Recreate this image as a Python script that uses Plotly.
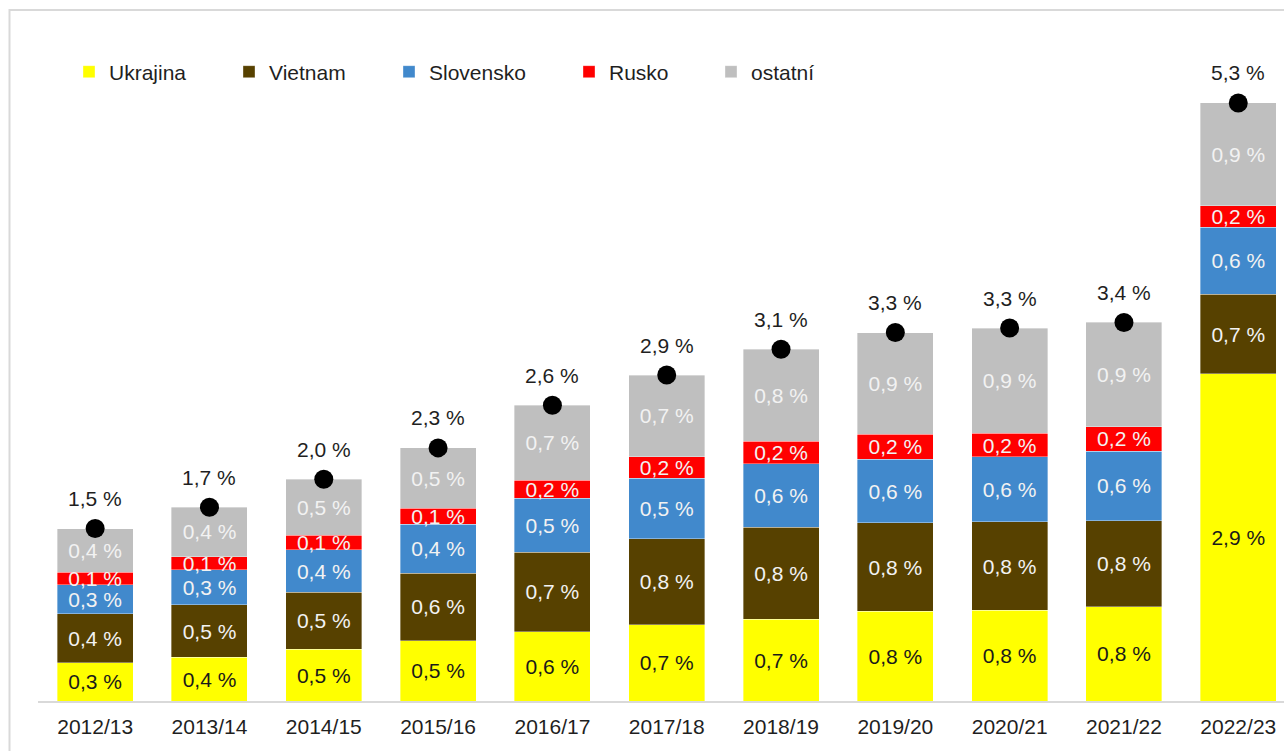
import plotly.graph_objects as go

categories = ["2012/13", "2013/14", "2014/15", "2015/16", "2016/17", "2017/18",
              "2018/19", "2019/20", "2020/21", "2021/22", "2022/23"]
ukrajina = [0.34, 0.39, 0.46, 0.54, 0.62, 0.68, 0.73, 0.80, 0.81, 0.84, 2.92]
vietnam = [0.44, 0.47, 0.51, 0.60, 0.71, 0.77, 0.82, 0.79, 0.79, 0.77, 0.71]
slovensko = [0.26, 0.31, 0.38, 0.44, 0.48, 0.54, 0.57, 0.57, 0.58, 0.62, 0.60]
rusko = [0.11, 0.12, 0.13, 0.14, 0.16, 0.19, 0.20, 0.22, 0.21, 0.22, 0.19]
ostatni = [0.39, 0.44, 0.50, 0.54, 0.67, 0.73, 0.82, 0.91, 0.94, 0.93, 0.92]

series = [
    ("Ukrajina", ukrajina, "#FFFF00", "#1a1a1a"),
    ("Vietnam", vietnam, "#574100", "#f2f2f2"),
    ("Slovensko", slovensko, "#4189CC", "#f2f2f2"),
    ("Rusko", rusko, "#FF0000", "#f2f2f2"),
    ("ostatní", ostatni, "#BFBFBF", "#f2f2f2"),
]
legend_x = [69, 229, 389, 569, 711]

FONT = "Liberation Sans, Arial, sans-serif"
FS = 21


def fmt(v):
    return f"{v:.1f}".replace(".", ",") + " %"


fig = go.Figure()
legend_layouts = {}
for i, (name, vals, color, tcolor) in enumerate(series):
    lg = "legend" if i == 0 else f"legend{i + 1}"
    fig.add_trace(go.Bar(
        x=categories, y=vals, name=name,
        marker=dict(color=color, line=dict(width=0.6, color="rgba(255,255,255,0.6)")),
        text=[fmt(v) for v in vals], texttemplate="%{text}",
        textposition="inside", insidetextanchor="middle", textangle=0,
        textfont=dict(family=FONT, size=FS, color=tcolor),
        legend=lg, hoverinfo="skip",
    ))
    legend_layouts[lg] = dict(
        x=legend_x[i] / 1284, xref="container", xanchor="left",
        y=1 - 72 / 751, yref="container", yanchor="middle",
        orientation="h", bgcolor="rgba(0,0,0,0)",
        font=dict(family=FONT, size=FS, color="#1f1f1f"),
    )

totals = [round(sum(v), 2) for v in zip(ukrajina, vietnam, slovensko, rusko, ostatni)]

fig.add_trace(go.Scatter(
    x=categories, y=totals, mode="markers",
    marker=dict(color="black", size=19),
    showlegend=False, cliponaxis=False, hoverinfo="skip",
))

for c, t in zip(categories, totals):
    fig.add_annotation(x=c, y=t, text=fmt(t), showarrow=False, yshift=30,
                       font=dict(family=FONT, size=FS, color="#1f1f1f"))

plot_top, plot_bottom = 20, 701
plot_h = plot_bottom - plot_top
px_per_unit = 112

fig.add_shape(type="rect", xref="paper", yref="paper",
              x0=(9.5 - 38) / 1246, x1=1.2,
              y0=-0.3, y1=(plot_bottom - 10) / plot_h,
              line=dict(color="#d9d9d9", width=2), layer="below")

fig.update_layout(
    width=1284, height=751,
    barmode="stack", bargap=0.335,
    separators=", ",
    plot_bgcolor="white", paper_bgcolor="white",
    margin=dict(l=38, r=0, t=plot_top, b=751 - plot_bottom, autoexpand=False),
    uniformtext=dict(minsize=FS, mode="show"),
    font=dict(family=FONT, size=FS, color="#1f1f1f"),
    xaxis=dict(type="category", range=[-0.5, 10.4], showline=True,
               linecolor="#d9d9d9", linewidth=2, ticks="", showgrid=False,
               automargin=False, ticklabelstandoff=6,
               tickfont=dict(family=FONT, size=FS, color="#1f1f1f")),
    yaxis=dict(visible=False, range=[0, plot_h / px_per_unit], showgrid=False,
               zeroline=False),
    **legend_layouts,
)

fig.write_html("out.html", config={"displayModeBar": False},
               post_script="document.body.style.margin='0';document.body.style.overflow='hidden';")
